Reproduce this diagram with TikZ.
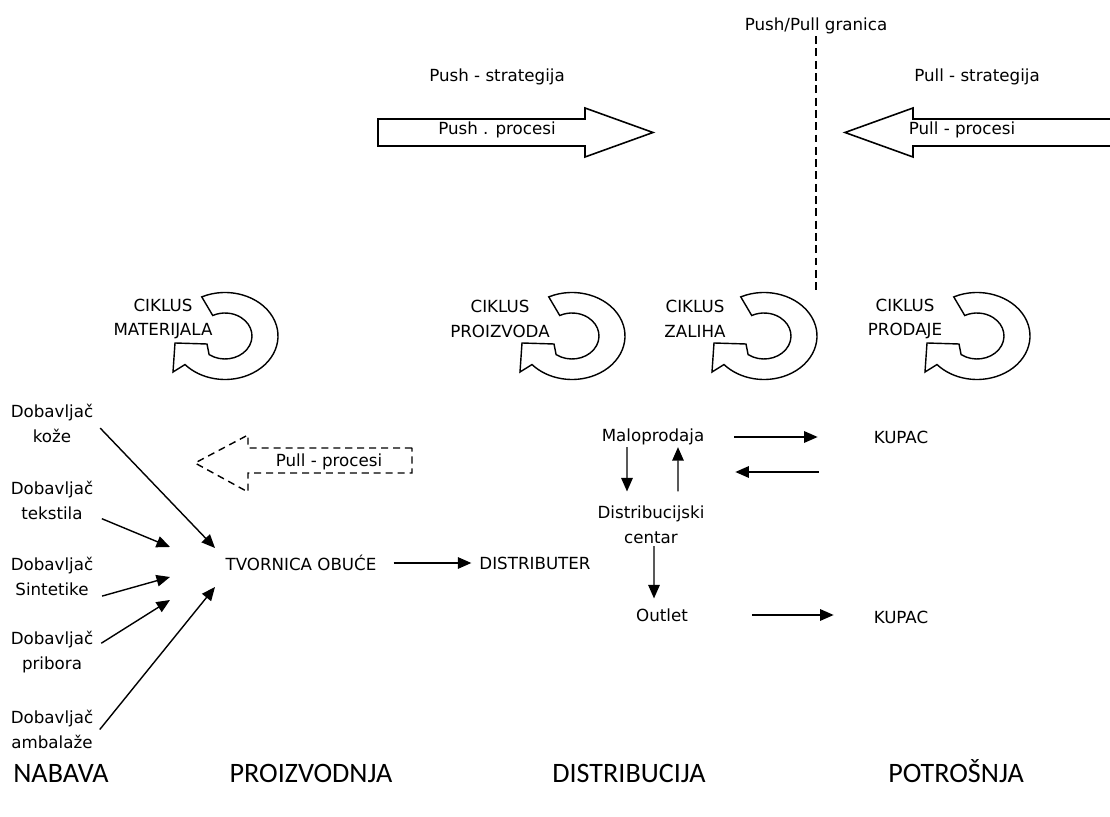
\documentclass[tikz,border=0pt]{standalone}
\usepackage{fontspec}
\setmainfont{DejaVu Sans}
\newfontfamily\fazafont{Carlito}
\usetikzlibrary{arrows.meta}

\begin{document}
\begin{tikzpicture}[x=0.02cm,y=-0.02cm]
\tikzstyle{every node}=[font=\fontsize{9.5}{14.2}\selectfont,inner sep=1pt,align=center]
\tikzstyle{strelica}=[draw,line width=0.8pt,-{Triangle[length=0.27cm,width=0.23cm]}]
\tikzstyle{blok}=[draw,line width=0.9pt,line join=miter]
\tikzstyle{faza}=[font=\fazafont\fontsize{16}{18}\selectfont,anchor=base]
\useasboundingbox (0,0) rectangle (1110,817);

% granica
\node (granica) at (816,26) {Push/Pull granica};
\coordinate (granicaKraj) at (816,292);
\draw[line width=1.1pt,dash pattern=on 4.5pt off 2.5pt] (granica.south) -- (granicaKraj);

% strategije
\node (pushS) at (497,77) {Push - strategija};
\node (pullS) at (977,77) {Pull - strategija};
\draw[blok] (378,119) -- (585,119) -- (585,108) -- (653,132.5) -- (585,157) -- (585,146) -- (378,146) -- cycle;
\node (pushP) at (497,130) {Push . procesi};
\draw[blok] (1112,119) -- (913,119) -- (913,108) -- (845,132.5) -- (913,157) -- (913,146) -- (1112,146);
\node (pullP) at (962,130) {Pull - procesi};

% ciklusi
\foreach \cx/\ime/\lx in {225/MATERIJALA/163, 572/PROIZVODA/500, 764/ZALIHA/695, 977/PRODAJE/905}{
  \draw[line width=0.8pt,shift={(\cx,336)}] (-116:53 and 43.5)
    arc[start angle=-116,end angle=139,x radius=53,y radius=43.5]
    -- (-52,36) -- (-50,7) -- (-18,8) -- (126:27 and 23)
    arc[start angle=126,end angle=-117,x radius=27,y radius=23] -- cycle;
  \node (c\ime) at (\lx,319) {CIKLUS\\\ime};
}

% pull procesi (isprekidano)
\draw[blok,line width=0.8pt,dash pattern=on 4pt off 2.8pt] (412,448) -- (248,448) -- (248,435) -- (195,463) -- (248,492) -- (248,473) -- (412,473) -- cycle;
\node (pullD) at (329,462) {Pull - procesi};

% dobavljaci
\node (dobK) at (52,423) {Dobavljač\\kože};
\node (dobT) at (52,500) {Dobavljač\\tekstila};
\node (dobS) at (52,576) {Dobavljač\\Sintetike};
\node (dobP) at (52,652) {Dobavljač\\pribora};
\node (dobA) at (52,729) {Dobavljač\\ambalaže};

\node (tvornica) at (301,563) {TVORNICA OBUĆE};
\node (distributer) at (535,563) {DISTRIBUTER};

\coordinate (ulazK) at (215,548);
\coordinate (ulazT) at (170,547);
\coordinate (ulazS) at (170,577);
\coordinate (ulazP) at (170,600);
\coordinate (ulazA) at (215,587);

\draw[strelica,shorten <=4pt] (dobK.east) -- (ulazK);
\draw[strelica,shorten <=4pt] ([yshift=-0.32cm]dobT.east) -- (ulazT);
\draw[strelica,shorten <=4pt] ([yshift=-0.44cm]dobS.east) -- (ulazS);
\draw[strelica,shorten <=4pt] ([yshift=0.1cm]dobP.east) -- (ulazP);
\draw[strelica,shorten <=4pt] ([yshift=-0.12cm]dobA.east) -- (ulazA);

\draw[strelica,shorten <=0.3cm,shorten >=0.12cm] (tvornica) -- (distributer);

% distribucija
\node (malo) at (653,437) {Maloprodaja};
\node (centar) at (651,525) {Distribucijski\\centar};
\node (outlet) at (662,615) {Outlet};
\node (kupac1) at (901,437) {KUPAC};
\node (kupac2) at (901,617) {KUPAC};

\draw[strelica,shorten <=0.56cm,shorten >=1.08cm] (malo.east) -- (kupac1.west);
\draw[strelica,shorten <=1.06cm,shorten >=0.58cm] ([yshift=-0.7cm]kupac1.west) -- ([yshift=-0.7cm]malo.east);
\draw[strelica,shorten >=0.25cm] ([xshift=-0.52cm]malo.south) -- ([xshift=-0.48cm]centar.north);
\draw[strelica,shorten <=0.25cm] ([xshift=0.54cm]centar.north) -- ([xshift=0.5cm]malo.south);
\draw[strelica,shorten >=0.16cm] ([xshift=0.06cm]centar.south) -- ([xshift=-0.16cm]outlet.north);
\draw[strelica,shorten <=1.24cm,shorten >=0.76cm] (outlet.east) -- (outlet.east -| kupac2.west);

% faze
\node[faza] (nabava) at (61,783) {NABAVA};
\node[faza] (proizvodnja) at (311,783) {PROIZVODNJA};
\node[faza] (distribucija) at (629,783) {DISTRIBUCIJA};
\node[faza] (potrosnja) at (956,783) {POTROŠNJA};
\end{tikzpicture}
\end{document}
